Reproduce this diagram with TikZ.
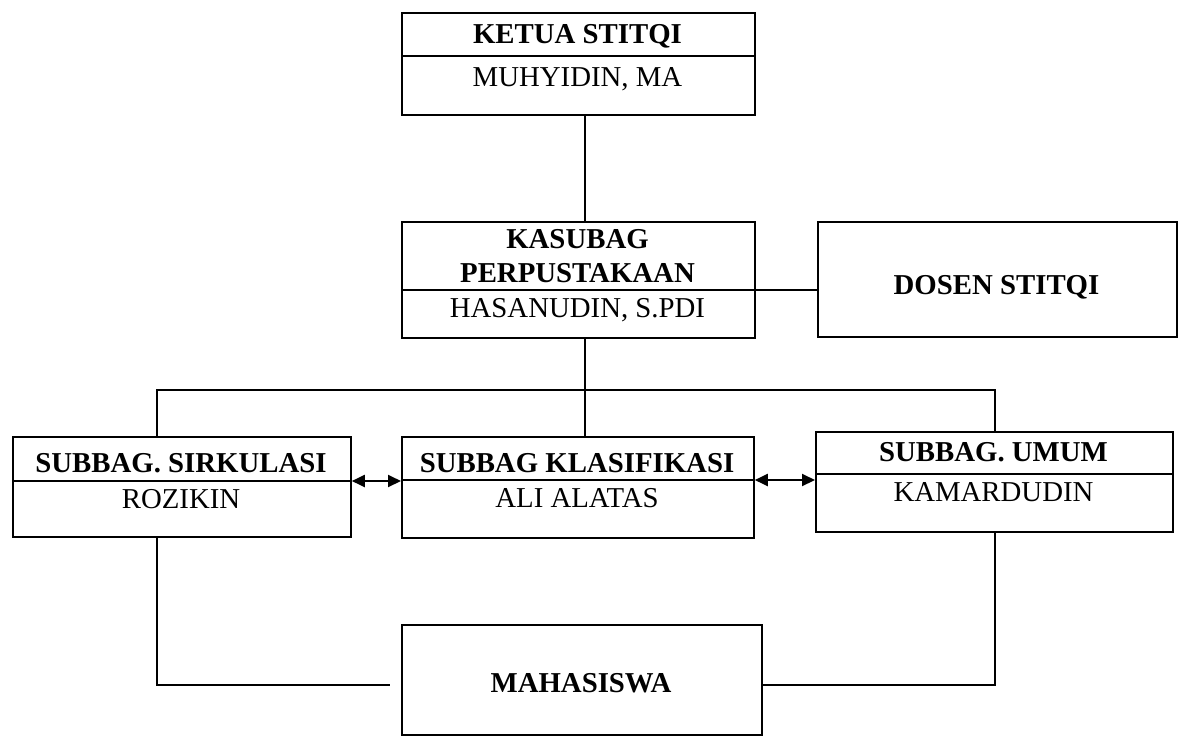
\documentclass[tikz,border=0pt]{standalone}
\usepackage{fontspec}
\setmainfont{Liberation Serif}
\usetikzlibrary{arrows.meta}
\begin{document}
\begin{tikzpicture}[x=1pt,y=-1pt,
  box/.style={draw,line width=1.8pt,inner sep=0pt,anchor=north west},
  lbl/.style={inner sep=0pt,text height=19pt,text depth=0pt,font=\fontsize{28.8}{33}\selectfont},
  blbl/.style={inner sep=0pt,text height=19pt,text depth=0pt,font=\fontsize{28.8}{33}\selectfont\bfseries},
  conn/.style={line width=1.2pt},
  divider/.style={line width=1.8pt},
  dbl/.style={line width=2pt,{Triangle[length=13pt,width=12pt]}-{Triangle[length=13pt,width=12pt]}}]
\useasboundingbox (0,0) rectangle (1184,740);
% boxes
\node[box,minimum width=353pt,minimum height=102pt] (ketua) at (401,12) {};
\node[box,minimum width=353pt,minimum height=116pt] (kasubag) at (401,221) {};
\node[box,minimum width=359pt,minimum height=115pt] (dosen) at (817,221) {};
\node[box,minimum width=338pt,minimum height=100pt] (sirk) at (12,436) {};
\node[box,minimum width=352pt,minimum height=101pt] (klas) at (401,436) {};
\node[box,minimum width=357pt,minimum height=100pt] (umum) at (815,431) {};
\node[box,minimum width=360pt,minimum height=110pt] (maha) at (401,624) {};
% helper coordinates
\coordinate (vx) at (585,0);
\coordinate (kd) at (0,56);
\coordinate (pd) at (0,290);
\coordinate (sd) at (0,481);
\coordinate (cd) at (0,480);
\coordinate (ud) at (0,474);
\coordinate (hl) at (157,390);
\coordinate (hub) at (585,390);
\coordinate (hr) at (995,390);
\coordinate (bl) at (157,685);
\coordinate (ml) at (390,685);
\coordinate (br) at (995,685);
% dividers
\draw[divider] (ketua.west |- kd) -- (ketua.east |- kd);
\draw[divider] (kasubag.west |- pd) -- (kasubag.east |- pd);
\draw[divider] (sirk.west |- sd) -- (sirk.east |- sd);
\draw[divider] (klas.west |- cd) -- (klas.east |- cd);
\draw[divider] (umum.west |- ud) -- (umum.east |- ud);
% connectors
\draw[conn] (ketua.south -| vx) -- (kasubag.north -| vx);
\draw[conn] (kasubag.east |- pd) -- (dosen.west |- pd);
\draw[conn] (kasubag.south -| vx) -- (hub);
\draw[conn] (sirk.north -| hl) -- (hl) -- (hr) -- (umum.north -| hr);
\draw[conn] (hub) -- (klas.north -| vx);
\draw[dbl] (sirk.east |- sd) -- (klas.west |- sd);
\draw[dbl] (klas.east |- cd) -- (umum.west |- cd);
\draw[conn] (sirk.south -| bl) -- (bl) -- (ml);
\draw[conn] (umum.south -| br) -- (br) -- (maha.east |- br);
% texts
\node[blbl] (t1) at (577.5,34) {KETUA STITQI};
\node[lbl] (t2) at (577.5,77) {MUHYIDIN, MA};
\node[blbl] (t3) at (577.5,239) {KASUBAG};
\node[blbl] (t4) at (577.5,273) {PERPUSTAKAAN};
\node[lbl] (t5) at (577.5,308) {HASANUDIN, S.PDI};
\node[blbl] (t6) at (996.5,285) {DOSEN STITQI};
\node[blbl] (t7) at (181,463) {SUBBAG. SIRKULASI};
\node[lbl] (t8) at (181,499) {ROZIKIN};
\node[blbl] (t9) at (577,463) {SUBBAG KLASIFIKASI};
\node[lbl] (t10) at (577,498) {ALI ALATAS};
\node[blbl] (t11) at (993.5,452) {SUBBAG. UMUM};
\node[lbl] (t12) at (993.5,492) {KAMARDUDIN};
\node[blbl] (t13) at (581,683) {MAHASISWA};
\end{tikzpicture}
\end{document}
